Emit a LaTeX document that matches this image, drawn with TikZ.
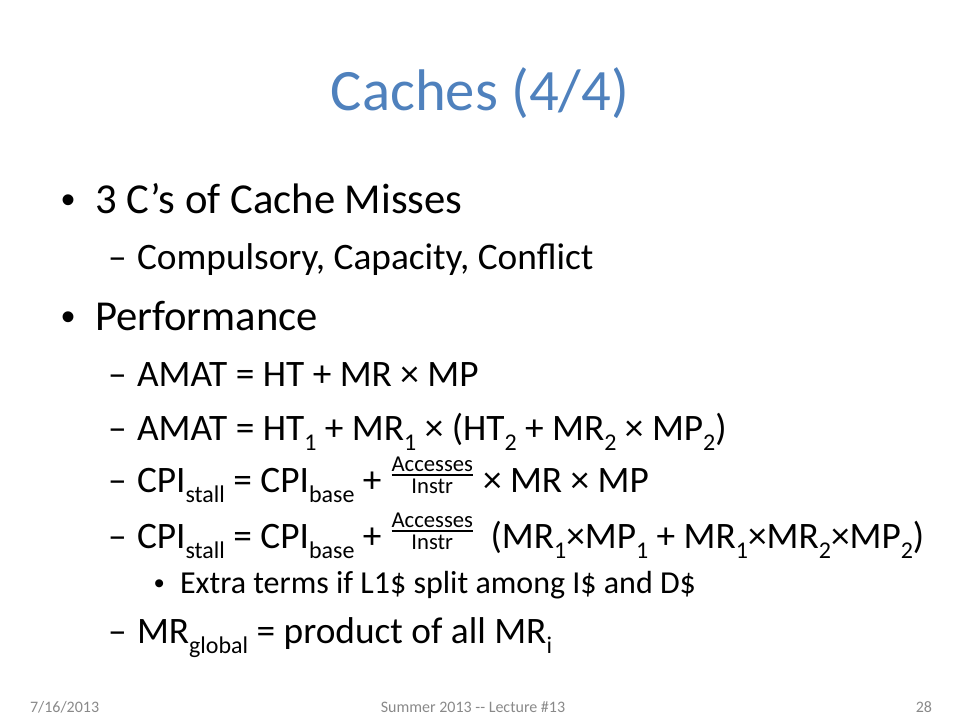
\documentclass[tikz,border=0pt]{standalone}
\usepackage{fontspec}
\usepackage{amsmath}
\setmainfont{Carlito}
\newfontfamily\bulletfont{Liberation Sans}
\definecolor{titleblue}{HTML}{4F81BD}
\definecolor{footgray}{HTML}{898989}
\newcommand\sbs[2]{\raisebox{-0.28em}{\fontsize{#1}{#1}\selectfont #2}}
\newcommand\frc{\raisebox{0.30em}{\fontsize{17}{17}\selectfont$\genfrac{}{}{1.8pt}{}{\hbox{\fontsize{17}{17}\selectfont Accesses}}{\hbox{\fontsize{17}{17}\selectfont Instr}}$}}
\begin{document}
\begin{tikzpicture}[x=0.75pt,y=-0.75pt,
  every node/.style={inner sep=0pt,outer sep=0pt},
  ttl/.style={anchor=base,text=titleblue,font=\fontsize{44}{50}\selectfont},
  lone/.style={anchor=base west,font=\fontsize{32}{36}\selectfont},
  bone/.style={anchor=base west,font=\bulletfont\fontsize{30}{36}\selectfont},
  ltwo/.style={anchor=base west,font=\fontsize{28}{32}\selectfont},
  lthree/.style={anchor=base west,font=\fontsize{24}{28}\selectfont},
  bthree/.style={anchor=base west,font=\bulletfont\fontsize{22}{28}\selectfont},
  foot/.style={anchor=base,text=footgray,font=\fontsize{12}{14}\selectfont}]
\useasboundingbox (0,0) rectangle (960,720);
\node[ttl] (title) at (480,111) {Caches (4/4)};
% level 1
\node[bone] (b1) at (61,214) {•};
\node[lone] (t1) at (95,214) {3 C’s of Cache Misses};
\node[ltwo] (d1) at (108,270) {–};
\node[ltwo] (t2) at (137,270) {Compulsory, Capacity, Conflict};
\node[bone] (b2) at (61,330) {•};
\node[lone] (t3) at (95,330) {Performance};
\node[ltwo] (d2) at (108,386) {–};
\node[ltwo] (t4) at (137,386) {AMAT = HT + MR × MP};
\node[ltwo] (d3) at (108,440) {–};
\node[ltwo] (t5) at (137,440) {AMAT = HT\sbs{18}{1} + MR\sbs{18}{1} × (HT\sbs{18}{2} + MR\sbs{18}{2} × MP\sbs{18}{2})};
\node[ltwo] (d4) at (108,492) {–};
\node[ltwo] (t6) at (137,492) {CPI\sbs{18}{stall} = CPI\sbs{18}{base} + \frc{} × MR × MP};
\node[ltwo] (d5) at (108,548) {–};
\node[ltwo] (t7) at (137,548) {CPI\sbs{18}{stall} = CPI\sbs{18}{base} + \frc{}\hspace{12pt}(MR\sbs{18}{1}×MP\sbs{18}{1} + MR\sbs{18}{1}×MR\sbs{18}{2}×MP\sbs{18}{2})};
\node[bthree] (b3) at (154,593) {•};
\node[lthree] (t8) at (180,593) {Extra terms if L1\$ split among I\$ and D\$};
\node[ltwo] (d6) at (108,643) {–};
\node[ltwo] (t9) at (137,643) {MR\sbs{18}{global} = product of all MR\sbs{18}{i}};
% footer
\node[foot,anchor=base west] (f1) at (30,712) {7/16/2013};
\node[foot] (f2) at (473,712) {Summer 2013 -{}- Lecture \#13};
\node[foot,anchor=base east] (f3) at (932,712) {28};
\end{tikzpicture}
\end{document}
